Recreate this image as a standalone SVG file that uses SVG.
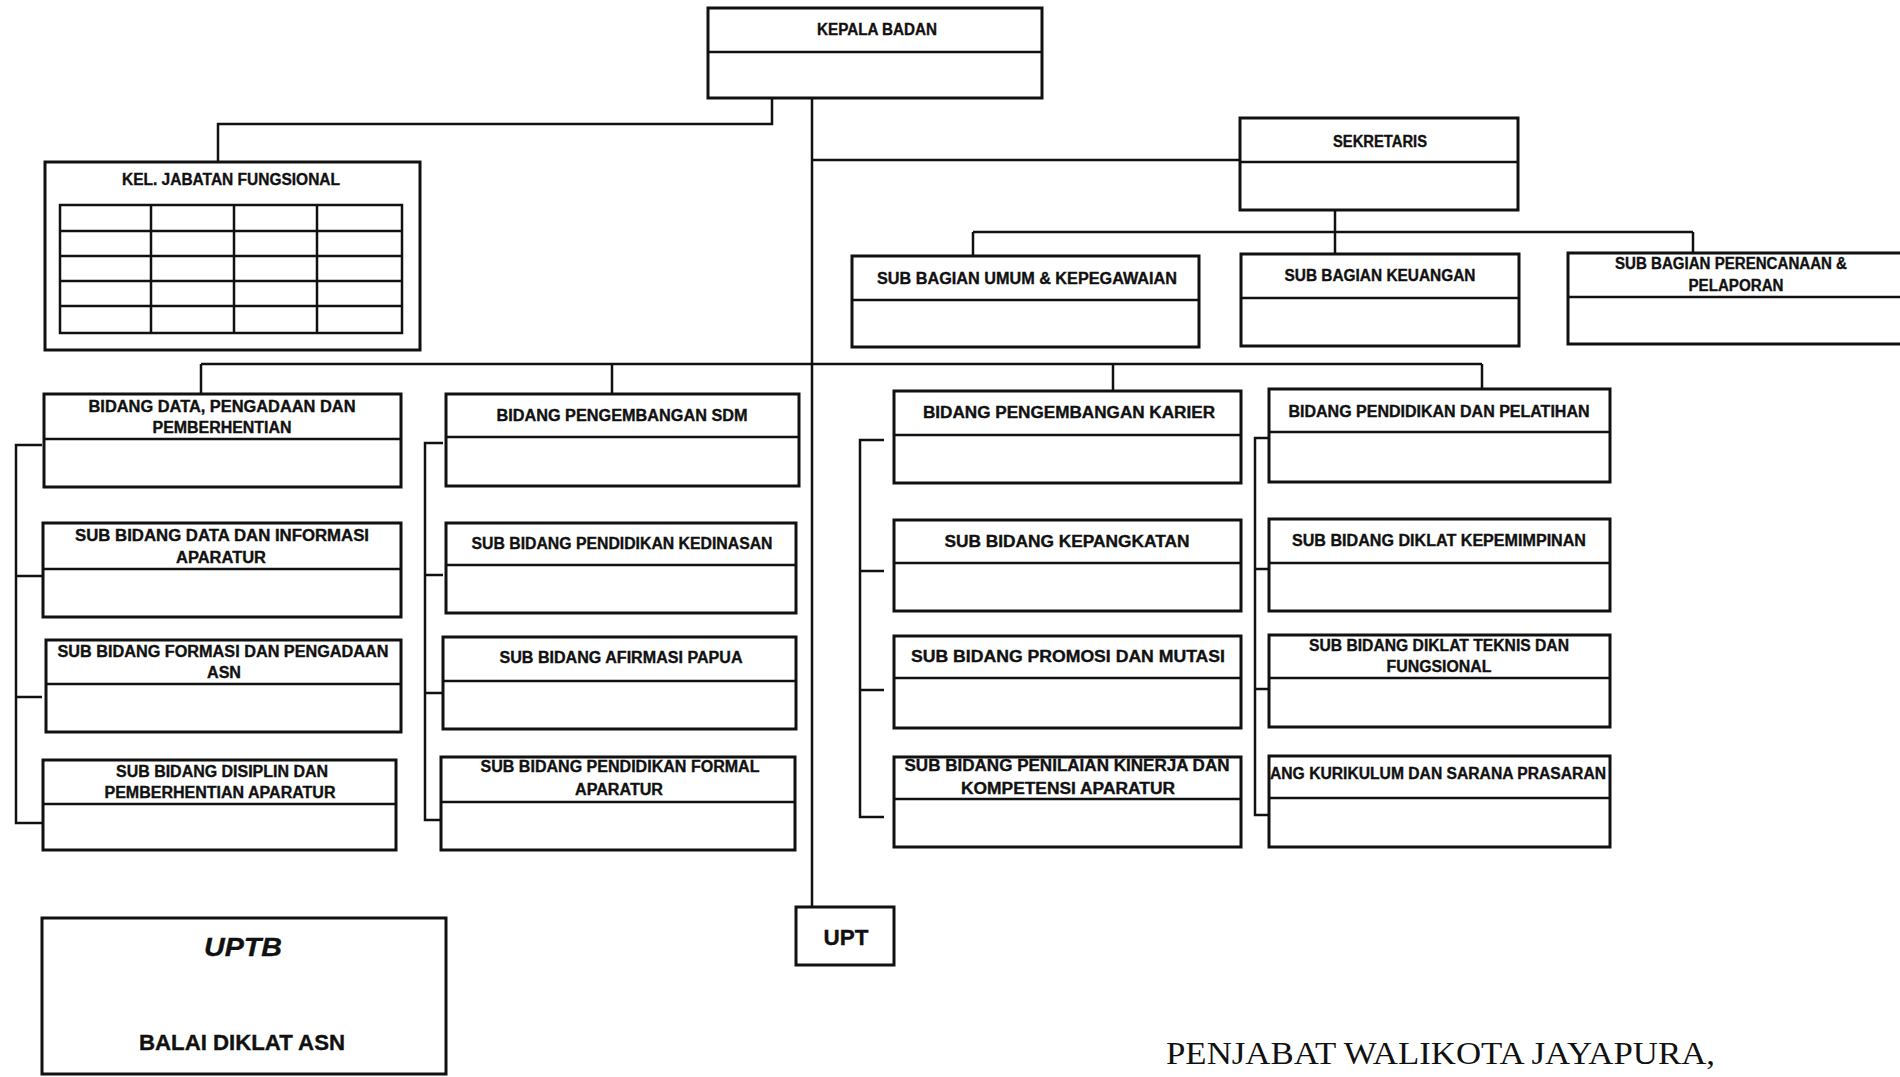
<svg xmlns="http://www.w3.org/2000/svg" width="1900" height="1077" viewBox="0 0 1900 1077">
<style>
.box{fill:#fff;stroke:#111;stroke-width:3}
.div{stroke:#111;stroke-width:2.5;fill:none}
.con{stroke:#111;stroke-width:2.5;fill:none}
.tbl{stroke:#111;stroke-width:2.5;fill:none}
text{font-family:"Liberation Sans",Arial,sans-serif;font-weight:bold;font-size:16px;fill:#111;stroke:#111;stroke-width:0.35;text-anchor:middle}
.big{font-size:22px}
.it{font-style:italic;font-size:26px}
.serif{font-family:"Liberation Serif","Times New Roman",serif;font-weight:normal;font-size:32px;stroke:none;text-anchor:start}
</style>
<rect width="1900" height="1077" fill="#fff"/>
<g id="connectors">
<path class="con" d="M772,98 V124 H218 V162"/>
<path class="con" d="M812,98 V907"/>
<path class="con" d="M812,160 H1241"/>
<path class="con" d="M1335,210 V254 M973,232 H1693 M973,232 V256 M1693,232 V253"/>
<path class="con" d="M201,364 H1482 M201,364 V394 M612,364 V394 M1113,364 V391 M1482,364 V389"/>
<path class="con" d="M42,445 H16 V823 H42 M16,576 H42 M16,697 H42"/>
<path class="con" d="M443,443 H425 V820 H443 M425,575 H443 M425,693 H443"/>
<path class="con" d="M884,440 H860 V817 H884 M860,571 H884 M860,690 H884"/>
<path class="con" d="M1269,438 H1255 V815 H1269 M1255,569 H1269 M1255,689 H1269"/>
</g>
<g id="kepala-badan">
<rect class="box" x="708" y="8" width="334" height="90"/>
<path class="div" d="M708,52 H1042"/>
<text x="877" y="35" textLength="120" lengthAdjust="spacingAndGlyphs">KEPALA BADAN</text>
</g>
<g id="kel-jabatan-fungsional">
<rect class="box" x="45" y="162" width="375" height="188"/>
<text x="231" y="185" textLength="218" lengthAdjust="spacingAndGlyphs">KEL. JABATAN FUNGSIONAL</text>
<rect class="tbl" x="60" y="205" width="342" height="128" stroke-width="3"/>
<path class="tbl" d="M151,205 V333 M234,205 V333 M317,205 V333 M60,231 H402 M60,256 H402 M60,281 H402 M60,306 H402"/>
</g>
<g id="sekretaris">
<rect class="box" x="1240" y="118" width="278" height="92"/>
<path class="div" d="M1240,162 H1518"/>
<text x="1380" y="147" textLength="94" lengthAdjust="spacingAndGlyphs">SEKRETARIS</text>
</g>
<g id="sub-bagian-umum">
<rect class="box" x="852" y="256" width="347" height="91"/>
<path class="div" d="M852,300 H1199"/>
<text x="1027" y="284" textLength="300" lengthAdjust="spacingAndGlyphs">SUB BAGIAN UMUM &amp; KEPEGAWAIAN</text>
</g>
<g id="sub-bagian-keuangan">
<rect class="box" x="1241" y="254" width="278" height="92"/>
<path class="div" d="M1241,298 H1519"/>
<text x="1380" y="281" textLength="191" lengthAdjust="spacingAndGlyphs">SUB BAGIAN KEUANGAN</text>
</g>
<g id="sub-bagian-perencanaan">
<rect class="box" x="1568" y="253" width="345" height="91"/>
<path class="div" d="M1568,297 H1910"/>
<text x="1731" y="269" textLength="232" lengthAdjust="spacingAndGlyphs">SUB BAGIAN PERENCANAAN &amp;</text>
<text x="1736" y="291" textLength="95" lengthAdjust="spacingAndGlyphs">PELAPORAN</text>
</g>
<g id="bidang-data">
<rect class="box" x="44" y="394" width="357" height="93"/>
<path class="div" d="M44,439 H401"/>
<text x="222" y="412" textLength="267" lengthAdjust="spacingAndGlyphs">BIDANG DATA, PENGADAAN DAN</text>
<text x="222" y="433" textLength="139" lengthAdjust="spacingAndGlyphs">PEMBERHENTIAN</text>
</g>
<g id="sub-bidang-data-informasi">
<rect class="box" x="43" y="523" width="358" height="94"/>
<path class="div" d="M43,569 H401"/>
<text x="222" y="541" textLength="294" lengthAdjust="spacingAndGlyphs">SUB BIDANG DATA DAN INFORMASI</text>
<text x="221" y="563" textLength="90" lengthAdjust="spacingAndGlyphs">APARATUR</text>
</g>
<g id="sub-bidang-formasi">
<rect class="box" x="46" y="640" width="355" height="92"/>
<path class="div" d="M46,684 H401"/>
<text x="223" y="657" textLength="331" lengthAdjust="spacingAndGlyphs">SUB BIDANG FORMASI DAN PENGADAAN</text>
<text x="224" y="678" textLength="34" lengthAdjust="spacingAndGlyphs">ASN</text>
</g>
<g id="sub-bidang-disiplin">
<rect class="box" x="43" y="760" width="353" height="90"/>
<path class="div" d="M43,804 H396"/>
<text x="222" y="777" textLength="212" lengthAdjust="spacingAndGlyphs">SUB BIDANG DISIPLIN DAN</text>
<text x="220" y="798" textLength="231" lengthAdjust="spacingAndGlyphs">PEMBERHENTIAN APARATUR</text>
</g>
<g id="bidang-pengembangan-sdm">
<rect class="box" x="446" y="394" width="353" height="92"/>
<path class="div" d="M446,437 H799"/>
<text x="622" y="421" textLength="251" lengthAdjust="spacingAndGlyphs">BIDANG PENGEMBANGAN SDM</text>
</g>
<g id="sub-bidang-pendidikan-kedinasan">
<rect class="box" x="446" y="523" width="350" height="90"/>
<path class="div" d="M446,565 H796"/>
<text x="622" y="549" textLength="301" lengthAdjust="spacingAndGlyphs">SUB BIDANG PENDIDIKAN KEDINASAN</text>
</g>
<g id="sub-bidang-afirmasi">
<rect class="box" x="443" y="637" width="353" height="92"/>
<path class="div" d="M443,681 H796"/>
<text x="621" y="663" textLength="243" lengthAdjust="spacingAndGlyphs">SUB BIDANG AFIRMASI PAPUA</text>
</g>
<g id="sub-bidang-pendidikan-formal">
<rect class="box" x="441" y="757" width="354" height="93"/>
<path class="div" d="M441,802 H795"/>
<text x="620" y="772" textLength="279" lengthAdjust="spacingAndGlyphs">SUB BIDANG PENDIDIKAN FORMAL</text>
<text x="619" y="795" textLength="88" lengthAdjust="spacingAndGlyphs">APARATUR</text>
</g>
<g id="bidang-pengembangan-karier">
<rect class="box" x="894" y="391" width="347" height="92"/>
<path class="div" d="M894,435 H1241"/>
<text x="1069" y="418" textLength="292" lengthAdjust="spacingAndGlyphs">BIDANG PENGEMBANGAN KARIER</text>
</g>
<g id="sub-bidang-kepangkatan">
<rect class="box" x="894" y="520" width="347" height="91"/>
<path class="div" d="M894,563 H1241"/>
<text x="1067" y="547" textLength="245" lengthAdjust="spacingAndGlyphs">SUB BIDANG KEPANGKATAN</text>
</g>
<g id="sub-bidang-promosi">
<rect class="box" x="894" y="636" width="347" height="92"/>
<path class="div" d="M894,678 H1241"/>
<text x="1068" y="662" textLength="314" lengthAdjust="spacingAndGlyphs">SUB BIDANG PROMOSI DAN MUTASI</text>
</g>
<g id="sub-bidang-penilaian">
<rect class="box" x="894" y="757" width="347" height="90"/>
<path class="div" d="M894,799 H1241"/>
<text x="1067" y="771" textLength="325" lengthAdjust="spacingAndGlyphs">SUB BIDANG PENILAIAN KINERJA DAN</text>
<text x="1068" y="794" textLength="214" lengthAdjust="spacingAndGlyphs">KOMPETENSI APARATUR</text>
</g>
<g id="bidang-diklat">
<rect class="box" x="1269" y="389" width="341" height="93"/>
<path class="div" d="M1269,432 H1610"/>
<text x="1439" y="417" textLength="301" lengthAdjust="spacingAndGlyphs">BIDANG PENDIDIKAN DAN PELATIHAN</text>
</g>
<g id="sub-bidang-diklat-kepemimpinan">
<rect class="box" x="1269" y="519" width="341" height="92"/>
<path class="div" d="M1269,563 H1610"/>
<text x="1439" y="546" textLength="294" lengthAdjust="spacingAndGlyphs">SUB BIDANG DIKLAT KEPEMIMPINAN</text>
</g>
<g id="sub-bidang-diklat-teknis">
<rect class="box" x="1269" y="635" width="341" height="92"/>
<path class="div" d="M1269,678 H1610"/>
<text x="1439" y="651" textLength="260" lengthAdjust="spacingAndGlyphs">SUB BIDANG DIKLAT TEKNIS DAN</text>
<text x="1439" y="672" textLength="105" lengthAdjust="spacingAndGlyphs">FUNGSIONAL</text>
</g>
<g id="sub-bidang-kurikulum">
<rect class="box" x="1269" y="756" width="341" height="91"/>
<path class="div" d="M1269,798 H1610"/>
<text x="1438" y="779" textLength="336" lengthAdjust="spacingAndGlyphs">ANG KURIKULUM DAN SARANA PRASARAN</text>
</g>
<g id="upt">
<rect class="box" x="796" y="907" width="98" height="58"/>
<text class="big" x="846" y="945" textLength="45" lengthAdjust="spacingAndGlyphs">UPT</text>
</g>
<g id="uptb">
<rect class="box" x="42" y="918" width="404" height="156"/>
<text class="it" x="243" y="956" textLength="78" lengthAdjust="spacingAndGlyphs">UPTB</text>
<text class="big" x="242" y="1050" textLength="206" lengthAdjust="spacingAndGlyphs">BALAI DIKLAT ASN</text>
</g>
<text class="serif" x="1166" y="1064" textLength="549" lengthAdjust="spacingAndGlyphs">PENJABAT WALIKOTA JAYAPURA,</text>
</svg>
